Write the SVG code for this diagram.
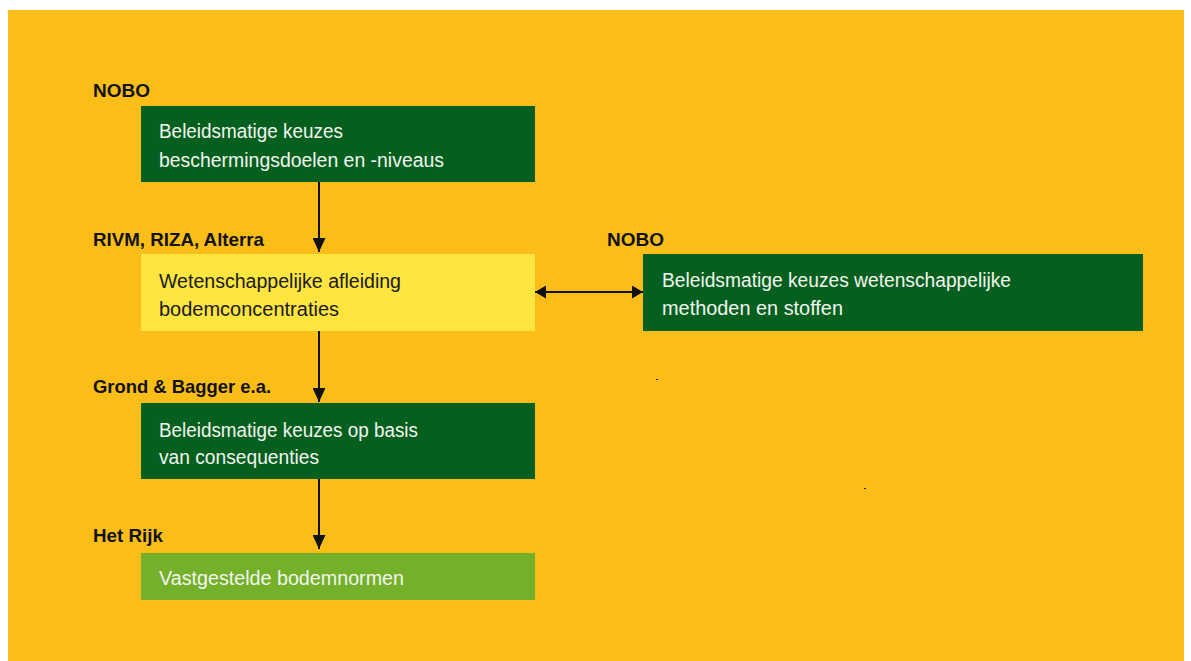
<svg xmlns="http://www.w3.org/2000/svg" width="1191" height="661" viewBox="0 0 1191 661">
<defs>
<style>
.bg{fill:#fbbe19}
.dk{fill:#055f1f}
.yl{fill:#fee540}
.lg{fill:#74b02a}
.lbl{font-family:"Liberation Sans",Arial,sans-serif;font-weight:bold;font-size:19px;fill:#111}
.tw{font-family:"Liberation Sans",Arial,sans-serif;font-size:20px;fill:#f2f6ee}
.tb{font-family:"Liberation Sans",Arial,sans-serif;font-size:20px;fill:#1a1a1a}
.ln{stroke:#111;stroke-width:2;fill:none}
</style>
<marker id="ah" viewBox="0 0 14 13" refX="14" refY="6.5" markerWidth="14" markerHeight="13" markerUnits="userSpaceOnUse" orient="auto-start-reverse">
<path d="M0,0 L14,6.5 L0,13 Z" fill="#111"/>
</marker>
<marker id="ah2" viewBox="0 0 11 13" refX="11" refY="6.5" markerWidth="11" markerHeight="13" markerUnits="userSpaceOnUse" orient="auto-start-reverse">
<path d="M0,0 L11,6.5 L0,13 Z" fill="#111"/>
</marker>
</defs>
<rect class="bg" x="8" y="10" width="1176" height="651"/>
<g id="labels">
<text class="lbl" x="93" y="97" textLength="57" lengthAdjust="spacingAndGlyphs">NOBO</text>
<text class="lbl" x="93" y="246" textLength="171" lengthAdjust="spacingAndGlyphs">RIVM, RIZA, Alterra</text>
<text class="lbl" x="607" y="246" textLength="57" lengthAdjust="spacingAndGlyphs">NOBO</text>
<text class="lbl" x="93" y="393" textLength="178" lengthAdjust="spacingAndGlyphs">Grond &amp; Bagger e.a.</text>
<text class="lbl" x="93" y="542" textLength="70" lengthAdjust="spacingAndGlyphs">Het Rijk</text>
</g>
<g id="node1">
<rect class="dk" x="141" y="106" width="394" height="76"/>
<text class="tw" x="159" y="138" textLength="184" lengthAdjust="spacingAndGlyphs">Beleidsmatige keuzes</text>
<text class="tw" x="159" y="167" textLength="285" lengthAdjust="spacingAndGlyphs">beschermingsdoelen en -niveaus</text>
</g>
<g id="node2">
<rect class="yl" x="141" y="254" width="394" height="77"/>
<text class="tb" x="159" y="288" textLength="242" lengthAdjust="spacingAndGlyphs">Wetenschappelijke afleiding</text>
<text class="tb" x="159" y="316" textLength="180" lengthAdjust="spacingAndGlyphs">bodemconcentraties</text>
</g>
<g id="node3">
<rect class="dk" x="643" y="254" width="500" height="77"/>
<text class="tw" x="662" y="287" textLength="349" lengthAdjust="spacingAndGlyphs">Beleidsmatige keuzes wetenschappelijke</text>
<text class="tw" x="662" y="315" textLength="181" lengthAdjust="spacingAndGlyphs">methoden en stoffen</text>
</g>
<g id="node4">
<rect class="dk" x="141" y="403" width="394" height="76"/>
<text class="tw" x="159" y="437" textLength="259" lengthAdjust="spacingAndGlyphs">Beleidsmatige keuzes op basis</text>
<text class="tw" x="159" y="464" textLength="160" lengthAdjust="spacingAndGlyphs">van consequenties</text>
</g>
<g id="node5">
<rect class="lg" x="141" y="553" width="394" height="47"/>
<text class="tw" x="159" y="585" textLength="245" lengthAdjust="spacingAndGlyphs">Vastgestelde bodemnormen</text>
</g>
<g id="connectors">
<line class="ln" x1="319" y1="182" x2="319" y2="252" marker-end="url(#ah)"/>
<line class="ln" x1="319" y1="331" x2="319" y2="402" marker-end="url(#ah)"/>
<line class="ln" x1="319" y1="479" x2="319" y2="549" marker-end="url(#ah)"/>
<line class="ln" x1="535" y1="292" x2="643" y2="292" marker-start="url(#ah2)" marker-end="url(#ah2)"/>
</g>
<rect x="656" y="379" width="2" height="1" fill="#222"/>
<rect x="864" y="488" width="2" height="1" fill="#222"/>
</svg>
